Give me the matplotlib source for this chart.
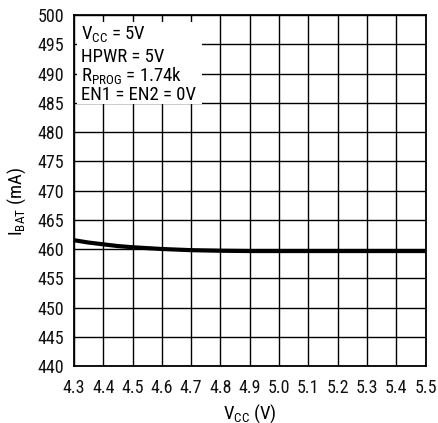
import matplotlib
matplotlib.use("Agg")
import matplotlib.pyplot as plt
from matplotlib.patches import Rectangle

plt.rcParams['font.family'] = ['Roboto Condensed', 'DejaVu Sans']
plt.rcParams['mathtext.fontset'] = 'custom'
plt.rcParams['mathtext.rm'] = 'Roboto Condensed'

vcc = [4.3, 4.35, 4.4, 4.45, 4.5, 4.55, 4.6, 4.65, 4.7, 4.8, 4.9, 5.0, 5.1, 5.2, 5.3, 5.4, 5.5]
ibat = [461.5, 461.1, 460.8, 460.5, 460.3, 460.15, 460.0, 459.9, 459.8, 459.7, 459.65, 459.65, 459.65, 459.65, 459.65, 459.65, 459.65]
xticks = [4.3, 4.4, 4.5, 4.6, 4.7, 4.8, 4.9, 5.0, 5.1, 5.2, 5.3, 5.4, 5.5]
yticks = list(range(440, 501, 5))
notes = ["V$_{\\mathregular{CC}}$ = 5V", "HPWR = 5V", "R$_{\\mathregular{PROG}}$ = 1.74k", "EN1 = EN2 = 0V"]

W, H = 438, 423
L, R, T, B = 74, 425.5, 15, 366
fig = plt.figure(figsize=(W/100, H/100), dpi=100)
ax = fig.add_axes([L/W, 1-B/H, (R-L)/W, (B-T)/H])
ax.set_xlim(4.3, 5.5)
ax.set_ylim(440, 500)
ax.set_xticks(xticks)
ax.set_xticklabels([f"{t:.1f}" for t in xticks])
ax.set_yticks(yticks)
ax.grid(True, color='black', linewidth=1.0, zorder=0)
ax.set_axisbelow(True)
ax.tick_params(length=0, labelsize=13, colors='#111111')
ax.tick_params(axis='x', pad=9)
ax.tick_params(axis='y', pad=7)
for s in ax.spines.values():
    s.set_linewidth(1.3)

def fx(px):
    return (px - L) / (R - L)

def fy(py):
    return 1 - (py - T) / (B - T)

ax.add_patch(Rectangle((fx(77), fy(104)), fx(202) - fx(77), fy(22) - fy(104), transform=ax.transAxes,
                       facecolor='white', edgecolor='none', zorder=1.5))
ax.plot(vcc, ibat, color='black', linewidth=3, solid_capstyle='butt', zorder=3)
ax.set_xlabel(r"V$_{\mathregular{CC}}$ (V)", fontsize=13.5)
ax.xaxis.set_label_coords(0.5, fy(402))
ax.set_ylabel(r"I$_{\mathregular{BAT}}$ (mA)", fontsize=13.5)
ax.yaxis.set_label_coords(fx(28), fy(202))
for txt, py in zip(notes, [40, 62, 82, 100]):
    ax.text(fx(81), fy(py), txt, transform=ax.transAxes, va='baseline', ha='left',
            fontsize=13.5, zorder=4)
fig.savefig("out.png", dpi=100)
